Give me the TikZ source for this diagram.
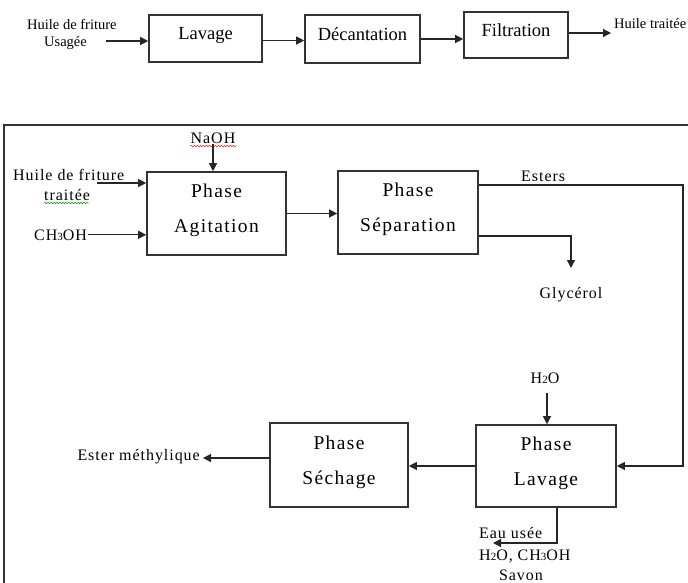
\documentclass[tikz,border=0pt]{standalone}
\usepackage{fontspec}
\setmainfont{Liberation Serif}
\newfontfamily\lsbox[LetterSpace=7]{Liberation Serif}
\newfontfamily\lslab[LetterSpace=6]{Liberation Serif}
\usetikzlibrary{arrows.meta,decorations.pathmorphing}
\newcommand\subd[1]{{\fontsize{11}{11}\selectfont #1}}
\begin{document}
\begin{tikzpicture}[x=1pt,y=-1pt,
  conn/.style={line width=1.2pt, draw=black!85},
  arr/.style={conn, -{Triangle[length=8pt,width=8pt]}},
  tbox/.style={draw=black!80, line width=1.6pt, inner sep=0pt, text height=13pt, text depth=10pt, font=\fontsize{18.5}{22}\selectfont},
  bbox/.style={draw=black!80, line width=1.6pt, inner sep=0pt, align=center, text depth=10pt, font=\lsbox\fontsize{19.5}{35}\selectfont},
  tlab/.style={inner sep=1pt, font=\fontsize{14.5}{17}\selectfont},
  blab/.style={inner sep=1pt, font=\lslab\fontsize{16}{20}\selectfont},
  wavy/.style={line width=0.5pt, decorate, decoration={snake, amplitude=0.7pt, segment length=3pt}}
]
\useasboundingbox (0,0) rectangle (688,583);
% frame
\draw[line width=1.3pt, draw=black!80] (4,583) -- (4,125) -- (688,125);

% ---------- top row ----------
\node[tlab, anchor=base west] (hu1) at (26,30) {Huile de friture};
\node[tlab, anchor=base west] (hu2) at (43,47) {Usagée};
\node[tbox, minimum width=113, minimum height=47] (lav) at (205.5,38.5) {Lavage};
\node[tbox, minimum width=115, minimum height=48] (dec) at (362.5,39) {Décantation};
\node[tbox, minimum width=104, minimum height=46] (fil) at (516,35) {Filtration};
\node[tlab, anchor=base west] (ht) at (613,29) {Huile traitée};
\coordinate (a1) at (106,41);
\coordinate (o1) at (611,33);
\draw[arr] (a1) -- (a1 -| lav.west);
\draw[arr] ([yshift=-2pt]lav.east) -- ([yshift=-2pt]lav.east -| dec.west);
\draw[arr] (dec.east) -- (dec.east -| fil.west);
\draw[arr] (fil.east |- o1) -- (o1);

% ---------- bottom ----------
\node[bbox, minimum width=139, minimum height=83] (agit) at (216.5,213.5) {Phase\\Agitation};
\node[bbox, minimum width=140, minimum height=83] (sep) at (408,212.5) {Phase\\Séparation};
\node[bbox, minimum width=140, minimum height=82] (lav2) at (546,466) {Phase\\Lavage};
\node[bbox, minimum width=138, minimum height=84] (sech) at (339,465) {Phase\\Séchage};

\node[blab, anchor=base] (naoh) at (213,143) {NaOH};
\node[blab, anchor=base west] (hf1) at (12,180) {Huile de friture};
\node[blab, anchor=base west] (hf2) at (43,200) {traitée};
\node[blab, anchor=base west] (ch) at (33,240) {CH\subd{3}OH};
\node[blab, anchor=base west] (est) at (520,181) {Esters};
\node[blab, anchor=base] (gly) at (571,298) {Glycérol};
\node[blab, anchor=base] (h2o) at (545,383) {H\subd{2}O};
\node[blab, anchor=base east] (em) at (201,460) {Ester méthylique};
\node[blab, anchor=base west] (eau) at (478,538) {Eau usée};
\node[blab, anchor=base west] (h2o2) at (478,560) {H\subd{2}O, CH\subd{3}OH};
\node[blab, anchor=base] (sav) at (521,580) {Savon};

% spell-check underlines
\draw[wavy, red] (naoh.base west) ++(1,3) -- ++(46,0);
\draw[wavy, green!60!black] (hf2.base west) ++(1,3) -- ++(45,0);

% connectors
\draw[arr] (naoh.south) -- (naoh.south |- agit.north);
\coordinate (c1) at (97,183);
\draw[arr] (c1) -- (c1 -| agit.west);
\draw[arr] (ch.east) -- (ch.east -| agit.west);
\draw[arr] (agit.east) -- (agit.east -| sep.west);
\coordinate (k1) at (683,185);
\draw[arr] (sep.east |- k1) -- (k1) -- (k1 |- lav2.east) -- (lav2.east);
\coordinate (g1) at (571,236);
\coordinate (g2) at (571,268);
\draw[arr] (sep.east |- g1) -- (g1) -- (g2);
\coordinate (h1) at (547,393);
\draw[arr] (h1) -- (h1 |- lav2.north);
\draw[arr] (lav2.west) -- (lav2.west -| sech.east);
\coordinate (e1) at (203,458);
\draw[arr] (sech.west |- e1) -- (e1);
\coordinate (w1) at (557,543);
\coordinate (w2) at (493,543);
\draw[arr] (w1 |- lav2.south) -- (w1) -- (w2);
\end{tikzpicture}
\end{document}
